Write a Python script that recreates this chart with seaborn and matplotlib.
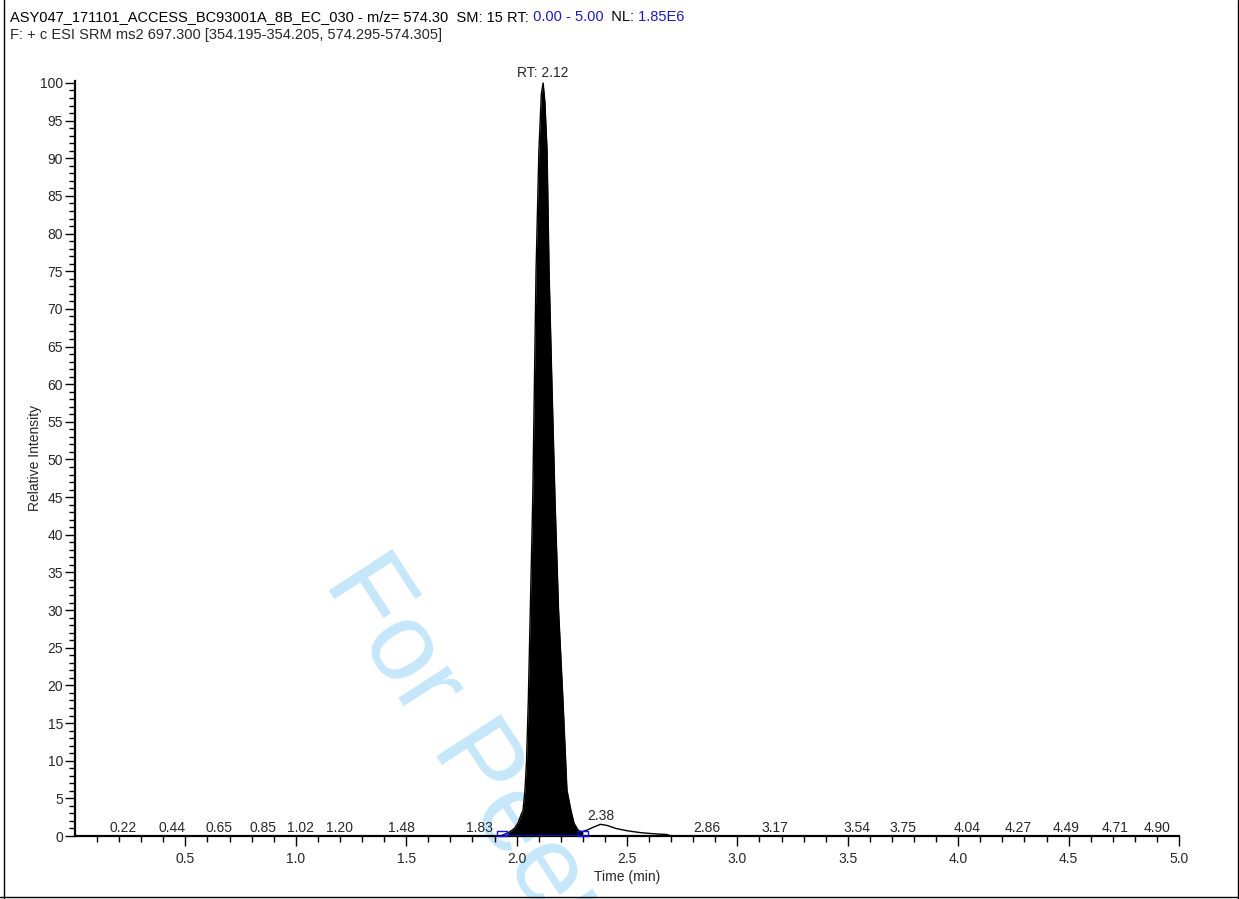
import matplotlib
matplotlib.use("Agg")
import matplotlib.pyplot as plt
from matplotlib.path import Path
from matplotlib.lines import Line2D
import pandas as pd
import seaborn as sns

# Chromatogram trace (time in min, relative intensity in %)
time_min = [0.00, 1.90, 1.93, 1.961, 1.99, 2.006, 2.020, 2.029, 2.038, 2.045,
            2.053, 2.062, 2.073, 2.088, 2.101, 2.112, 2.120, 2.128, 2.138,
            2.147, 2.160, 2.174, 2.190, 2.210, 2.228, 2.246, 2.260, 2.278,
            2.290, 2.300, 2.320, 2.350, 2.380, 2.410, 2.450, 2.500, 2.560,
            2.620, 2.680, 2.700, 5.00]
intensity = [0.0, 0.0, 0.05, 0.4, 1.0, 1.7, 2.8, 3.4, 6.1, 10.0,
             18.0, 30.0, 44.6, 75.0, 91.0, 98.5, 100.0, 97.5, 91.0,
             75.0, 60.0, 44.6, 30.0, 18.0, 6.1, 3.4, 1.7, 0.8,
             0.6, 0.6, 0.8, 1.2, 1.55, 1.4, 1.0, 0.7, 0.45,
             0.3, 0.2, 0.0, 0.0]

# Integrated peak
apex_rt = 2.12
apex_height = 100.0
integration_start = 1.934
integration_end = 2.300

# Secondary labelled peak
minor_rt = 2.38
minor_height = 1.55

# Labelled noise maxima along the baseline
noise_rts = [0.22, 0.44, 0.65, 0.85, 1.02, 1.20, 1.48, 1.83,
             2.86, 3.17, 3.54, 3.75, 4.04, 4.27, 4.49, 4.71, 4.90]

# Axis ticks
x_major = [0.5, 1.0, 1.5, 2.0, 2.5, 3.0, 3.5, 4.0, 4.5, 5.0]
x_minor = [round(0.1 * i, 1) for i in range(1, 50)]
y_major = list(range(0, 101, 5))
y_minor = list(range(0, 101, 1))

header_parts = [
    ("ASY047_171101_ACCESS_BC93001A_8B_EC_030 - m/z= 574.30  SM: 15 RT:", "black"),
    (" 0.00 - 5.00", "#1c1cb4"),
    ("  NL:", "black"),
    (" 1.85E6", "#1c1cb4"),
]
header_line2 = "F: + c ESI SRM ms2 697.300 [354.195-354.205, 574.295-574.305]"

sns.set_style("ticks")
plt.rcParams["font.family"] = ["Liberation Sans", "DejaVu Sans"]
FS = 10
HFS = 10.5

W, H = 1239, 899
fig = plt.figure(figsize=(W / 100, H / 100), dpi=100)
ax = fig.add_axes([75 / W, 1 - 836 / H, (1179 - 75) / W, (836 - 80.7) / H])
ax.patch.set_alpha(0)

df = pd.DataFrame({"time": time_min, "intensity": intensity})

# Filled integrated area
mask = (df["time"] >= integration_start) & (df["time"] <= integration_end)
seg = df[mask]
ax.fill_between(seg["time"], 0, seg["intensity"], color="black", lw=0, zorder=2)

# Trace
sns.lineplot(data=df, x="time", y="intensity", ax=ax, color="black",
             lw=1.0, zorder=3, estimator=None, sort=False)

# Integration baseline with open end markers
rect_marker = Path([(-1, -0.1), (1, -0.1), (1, 1.0), (-1, 1.0), (-1, -0.1)],
                   [Path.MOVETO, Path.LINETO, Path.LINETO, Path.LINETO, Path.CLOSEPOLY])
ax.plot([integration_start, integration_end], [0, 0], color="#1010ff", lw=1.8, zorder=4)
ax.plot([integration_start, integration_end], [0, 0], ls="none", marker=rect_marker,
        ms=7, mfc="none", mec="#1010ff", mew=1.0, zorder=5, clip_on=False)

# Peak labels
ax.annotate(f"RT: {apex_rt:.2f}", xy=(apex_rt, apex_height), xytext=(0, 2),
            textcoords="offset points", ha="center", va="bottom", fontsize=FS,
            annotation_clip=False)
ax.annotate(f"{minor_rt:.2f}", xy=(minor_rt, minor_height), xytext=(0, 1),
            textcoords="offset points", ha="center", va="bottom", fontsize=FS)
for rt in noise_rts:
    ax.annotate(f"{rt:.2f}", xy=(rt, 0), xytext=(0, 0.5),
                textcoords="offset points", ha="center", va="bottom", fontsize=FS)

# Axes styling
ax.set_xlim(0, 5.0)
ax.set_ylim(0, 100.3)
ax.set_xticks(x_major)
ax.set_xticklabels([f"{v:.1f}" for v in x_major])
ax.set_xticks([v for v in x_minor if v not in x_major], minor=True)
ax.set_yticks(y_major)
ax.set_yticklabels([str(v) for v in y_major])
ax.set_yticks([v for v in y_minor if v not in y_major], minor=True)
ax.tick_params(axis="both", which="major", length=7.2, width=1.0, color="black",
               labelsize=FS, direction="out")
ax.tick_params(axis="both", which="minor", length=4.6, width=1.0, color="black",
               direction="out")
ax.tick_params(axis="x", which="major", pad=4.5)
ax.tick_params(axis="y", which="major", pad=1.5)
for side in ("top", "right"):
    ax.spines[side].set_visible(False)
for side in ("left", "bottom"):
    ax.spines[side].set_linewidth(1.6)
    ax.spines[side].set_color("black")
ax.set_xlabel("Time (min)", fontsize=FS, labelpad=2.5)
ax.set_ylabel("Relative Intensity", fontsize=FS, labelpad=-1.5)

# Header lines
prev = fig.text(10 / W, 1 - 17 / H, header_parts[0][0], color=header_parts[0][1],
                fontsize=HFS, ha="left", va="center")
for txt, col in header_parts[1:]:
    prev = ax.annotate(txt, xy=(1, 0.5), xycoords=prev, ha="left", va="center",
                       color=col, fontsize=HFS, annotation_clip=False)
fig.text(10 / W, 1 - 35 / H, header_line2, fontsize=HFS, ha="left", va="center")

# Watermark
fig.text(323 / W, 1 - 582 / H, "For Peer Review", rotation=-57, rotation_mode="anchor",
         ha="left", va="baseline", fontsize=80, color="#c6e7fa", zorder=-5)

# Outer frame
frame_kw = dict(color="black", lw=1.0, transform=fig.transFigure)
fig.add_artist(Line2D([3.5 / W, 3.5 / W], [0, 1], **frame_kw))
fig.add_artist(Line2D([0, 1], [1 - 896.5 / H, 1 - 896.5 / H], **frame_kw))
fig.add_artist(Line2D([1237.5 / W, 1237.5 / W], [0, 1], **frame_kw))

fig.savefig("out.png", dpi=100)
